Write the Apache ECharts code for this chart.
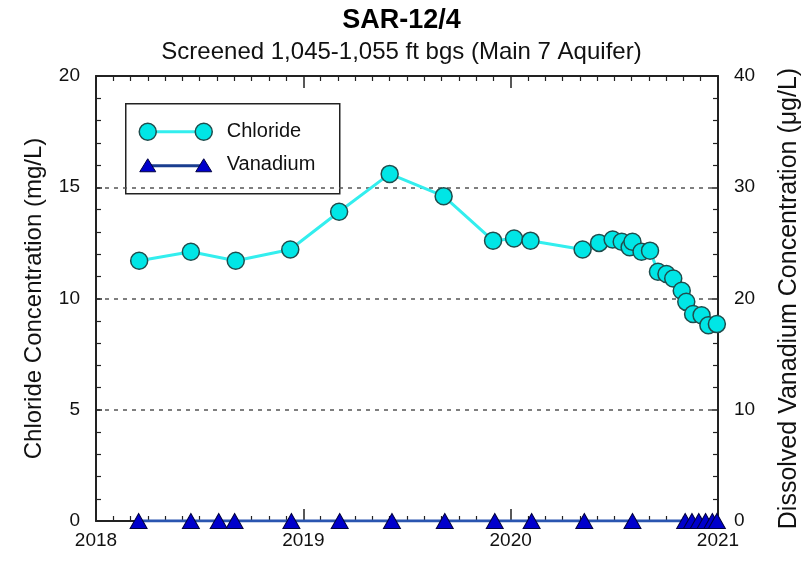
<!DOCTYPE html>
<html>
<head>
<meta charset="utf-8">
<script src="https://cdn.jsdelivr.net/npm/echarts@6/dist/echarts.min.js"></script>
<style>
  html, body { margin: 0; padding: 0; background: #fff; }
  #chart { width: 803px; height: 562px; }
</style>
</head>
<body>
<div id="chart"></div>
<script>
// sample dates and values
var chlorideDates = ['2018-03-18', '2018-06-17', '2018-09-04', '2018-12-09', '2019-03-05', '2019-06-02',
  '2019-09-05', '2019-12-01', '2020-01-07', '2020-02-05', '2020-05-07', '2020-06-05', '2020-06-29',
  '2020-07-15', '2020-07-29', '2020-08-03', '2020-08-19', '2020-09-03', '2020-09-17', '2020-10-02',
  '2020-10-14', '2020-10-29', '2020-11-06', '2020-11-18', '2020-12-03', '2020-12-15', '2020-12-30'];
var chlorideValues = [11.7, 12.1, 11.7, 12.2, 13.9, 15.6, 14.6, 12.6, 12.7, 12.6, 12.2, 12.5, 12.65,
  12.55, 12.3, 12.55, 12.1, 12.15, 11.2, 11.1, 10.9, 10.35, 9.85, 9.3, 9.25, 8.8, 8.85];

var vanadiumDates = ['2018-03-17', '2018-06-17', '2018-08-05', '2018-09-02', '2018-12-11', '2019-03-06',
  '2019-06-06', '2019-09-07', '2019-12-04', '2020-02-07', '2020-05-10', '2020-08-03', '2020-11-04',
  '2020-11-16', '2020-11-28', '2020-12-10', '2020-12-22', '2020-12-30'];
var vanadiumValues = [0, 0, 0, 0, 0, 0, 0, 0, 0, 0, 0, 0, 0, 0, 0, 0, 0, 0];

var yearTicks = [2018, 2019, 2020, 2021];

// date string -> decimal year, so the x axis can use year ticks with monthly minor ticks
function toYear(s) {
  var d = Date.parse(s + 'T00:00:00Z');
  var y = new Date(d).getUTCFullYear();
  var a = Date.UTC(y, 0, 1), b = Date.UTC(y + 1, 0, 1);
  return y + (d - a) / (b - a);
}
function pairs(dates, vals) {
  return dates.map(function (d, i) { return [toYear(d), vals[i]]; });
}

var FONT = 'Liberation Sans, Arial, sans-serif';
var axisCol = '#222';

var chart = echarts.init(document.getElementById('chart'));

var xCommon = {
  type: 'value',
  min: yearTicks[0],
  max: yearTicks[yearTicks.length - 1],
  interval: 1,
  axisLine: { show: true, onZero: false, lineStyle: { color: axisCol, width: 2 } },
  axisTick: { show: true, inside: true, length: 12, lineStyle: { color: axisCol, width: 1.5 } },
  minorTick: { show: true, splitNumber: 12, length: 5, lineStyle: { color: axisCol, width: 1.2 } },
  splitLine: { show: false }
};

var option = {
  backgroundColor: '#fff',
  animation: false,
  title: [{
    text: 'SAR-12/4',
    left: 'center',
    top: 2,
    textStyle: { fontFamily: FONT, fontSize: 27, fontWeight: 'bold', color: '#000' }
  }, {
    text: 'Screened 1,045-1,055 ft bgs (Main 7 Aquifer)',
    left: 'center',
    top: 35,
    textStyle: { fontFamily: FONT, fontSize: 24, fontWeight: 'normal', color: '#111' }
  }],
  grid: { left: 96, right: 85, top: 76, bottom: 41, outerBoundsMode: 'none', containLabel: false },
  xAxis: [
    Object.assign({}, xCommon, {
      position: 'bottom',
      axisLabel: {
        fontFamily: FONT, fontSize: 19, color: '#111', margin: 10,
        formatter: function (v) { return String(v); }
      }
    }),
    Object.assign({}, xCommon, {
      position: 'top',
      axisLabel: { show: false }
    })
  ],
  yAxis: [{
    type: 'value',
    min: 0, max: 20, interval: 5,
    position: 'left',
    name: 'Chloride Concentration (mg/L)',
    nameLocation: 'middle',
    nameRotate: 90,
    nameGap: 50,
    nameTextStyle: { fontFamily: FONT, fontSize: 24, color: '#111' },
    axisLine: { show: true, onZero: false, lineStyle: { color: axisCol, width: 2 } },
    axisTick: { show: true, inside: true, length: 6, lineStyle: { color: axisCol, width: 1.5 } },
    minorTick: { show: true, splitNumber: 5, length: 5, lineStyle: { color: axisCol, width: 1.2 } },
    axisLabel: { fontFamily: FONT, fontSize: 19, color: '#111', margin: 16 },
    splitLine: { show: true, lineStyle: { color: '#555', width: 1.5, type: [4, 5] } }
  }, {
    type: 'value',
    min: 0, max: 40, interval: 10,
    position: 'right',
    name: 'Dissolved Vanadium Concentration (\u03bcg/L)',
    nameLocation: 'middle',
    nameRotate: 90,
    nameGap: 59,
    nameTextStyle: { fontFamily: FONT, fontSize: 25, color: '#111' },
    axisLine: { show: true, onZero: false, lineStyle: { color: axisCol, width: 2 } },
    axisTick: { show: true, inside: true, length: 6, lineStyle: { color: axisCol, width: 1.5 } },
    minorTick: { show: true, splitNumber: 5, length: 5, lineStyle: { color: axisCol, width: 1.2 } },
    axisLabel: { fontFamily: FONT, fontSize: 19, color: '#111', margin: 16 },
    splitLine: { show: false }
  }],
  series: [{
    name: 'Vanadium',
    type: 'line',
    xAxisIndex: 0,
    yAxisIndex: 1,
    data: pairs(vanadiumDates, vanadiumValues),
    symbol: 'triangle',
    symbolSize: [17, 15],
    lineStyle: { color: '#2a55b0', width: 3 },
    itemStyle: { color: '#0000cc', borderColor: '#000040', borderWidth: 1 },
    z: 3
  }, {
    name: 'Chloride',
    type: 'line',
    xAxisIndex: 0,
    yAxisIndex: 0,
    data: pairs(chlorideDates, chlorideValues),
    symbol: 'circle',
    symbolSize: 17,
    lineStyle: { color: '#33eeee', width: 3 },
    itemStyle: { color: '#00e6e6', borderColor: '#1f4d4d', borderWidth: 1.5 },
    z: 4
  }],
  graphic: [{
    type: 'group',
    left: 125,
    top: 103,
    z: 100,
    children: [
      { type: 'rect', shape: { x: 0, y: 0, width: 214, height: 90 },
        style: { fill: '#fff', stroke: '#222', lineWidth: 1.5 } },
      { type: 'line', shape: { x1: 22, y1: 28, x2: 78, y2: 28 },
        style: { stroke: '#33eeee', lineWidth: 3 } },
      { type: 'circle', shape: { cx: 22, cy: 28, r: 8.5 },
        style: { fill: '#00e6e6', stroke: '#1f4d4d', lineWidth: 1.5 } },
      { type: 'circle', shape: { cx: 78, cy: 28, r: 8.5 },
        style: { fill: '#00e6e6', stroke: '#1f4d4d', lineWidth: 1.5 } },
      { type: 'text', x: 101, y: 28,
        style: { text: 'Chloride', fontFamily: FONT, fontSize: 20, fill: '#111', verticalAlign: 'middle' } },
      { type: 'line', shape: { x1: 22, y1: 62, x2: 78, y2: 62 },
        style: { stroke: '#1a3d8f', lineWidth: 3 } },
      { type: 'polygon', shape: { points: [[14, 68], [30, 68], [22, 55]] },
        style: { fill: '#0000cc', stroke: '#000040', lineWidth: 1 } },
      { type: 'polygon', shape: { points: [[70, 68], [86, 68], [78, 55]] },
        style: { fill: '#0000cc', stroke: '#000040', lineWidth: 1 } },
      { type: 'text', x: 101, y: 61,
        style: { text: 'Vanadium', fontFamily: FONT, fontSize: 20, fill: '#111', verticalAlign: 'middle' } }
    ]
  }]
};

chart.setOption(option);
</script>
</body>
</html>
